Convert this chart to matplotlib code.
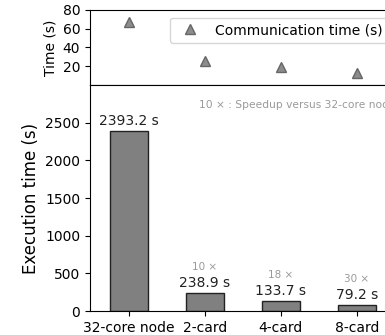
import matplotlib
matplotlib.use("Agg")
import matplotlib.pyplot as plt
import numpy as np

configs = ["32-core node", "2-card", "4-card", "8-card"]
exec_times = [2393.2, 238.9, 133.7, 79.2]
comm_times = [67.3, 26.1, 19.4, 12.5]
speedups = [None, 10, 18, 30]

x = np.arange(len(configs))

fig = plt.figure(figsize=(3.85, 3.35), dpi=100)
# the right edge of the axes runs past the figure, as in the reference
ax_top = fig.add_axes([0.2338, 0.7463, 0.7922, 0.2239])
ax = fig.add_axes([0.2338, 0.0716, 0.7922, 0.6747], sharex=ax_top)

# communication time panel
ax_top.plot(x, comm_times, linestyle="none", marker="^", markersize=6.5,
            color="#8c8c8c", markeredgecolor="#666666", markeredgewidth=1.0,
            label="Communication time (s)")
ax_top.set_ylim(0, 80)
ax_top.set_yticks([20, 40, 60, 80])
ax_top.set_ylabel("Time (s)", fontsize=10)
ax_top.tick_params(axis="y", labelsize=10)
ax_top.tick_params(axis="x", bottom=False, labelbottom=False)
ax_top.legend(loc="upper right", fontsize=10, bbox_to_anchor=(1.0, 0.99))

# execution time panel
bars = ax.bar(x, exec_times, width=0.5, color="#808080", edgecolor="#222222", linewidth=1.0)
ax.set_xlim(-0.51, 3.5)
ax.set_ylim(0, 3000)
ax.set_yticks([0, 500, 1000, 1500, 2000, 2500])
ax.set_xticks(x)
ax.set_xticklabels(configs)
ax.tick_params(labelsize=10)
ax.set_ylabel("Execution time (s)", fontsize=12)

for xi, t, s in zip(x, exec_times, speedups):
    ax.annotate("{:.1f} s".format(t), (xi, t), xytext=(0, 2), textcoords="offset points",
                ha="center", va="bottom", fontsize=10, color="#222222")
    if s is not None:
        ax.annotate("{} \u00d7".format(s), (xi, t), xytext=(0, 15), textcoords="offset points",
                    ha="center", va="bottom", fontsize=7.5, color="#999999")

ax.text(1.003, 0.911, "10 \u00d7 : Speedup versus 32-core node", transform=ax.transAxes,
        ha="right", va="center", fontsize=7.7, color="#999999")

fig.savefig("out.png", dpi=100)
